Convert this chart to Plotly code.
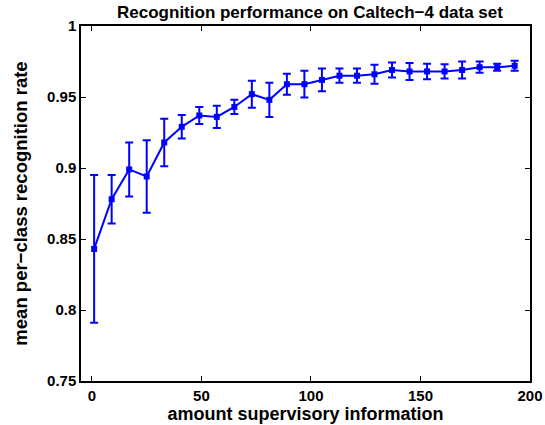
import plotly.graph_objects as go

supervision = [1, 9, 17, 25, 33, 41, 49, 57, 65, 73, 81, 89, 97, 105, 113, 121, 129,
               137, 145, 153, 161, 169, 177, 185, 193]
recognition_rate = [0.843, 0.878, 0.899, 0.894, 0.918, 0.929, 0.937, 0.936, 0.943, 0.952,
                    0.948, 0.959, 0.959, 0.962, 0.965, 0.965, 0.966, 0.969, 0.968, 0.968,
                    0.968, 0.969, 0.971, 0.971, 0.972]
std_error = [0.052, 0.017, 0.019, 0.0255, 0.0167, 0.0083, 0.006, 0.0078, 0.005, 0.0095,
             0.012, 0.0074, 0.0094, 0.008, 0.005, 0.005, 0.0067, 0.0053, 0.006, 0.0055,
             0.005, 0.006, 0.004, 0.0025, 0.0036]
x_ticks = [0, 50, 100, 150, 200]
x_tick_labels = ["0", "50", "100", "150", "200"]
y_ticks = [0.75, 0.8, 0.85, 0.9, 0.95, 1.0]
y_tick_labels = ["0.75", "0.8", "0.85", "0.9", "0.95", "1"]

blue = "#0000ff"
font_family = "Liberation Sans, Arial, Helvetica, sans-serif"

fig = go.Figure()
fig.add_trace(go.Scatter(
    x=supervision, y=recognition_rate,
    mode="lines+markers",
    line=dict(color=blue, width=2),
    marker=dict(symbol="square", size=6, color=blue),
    error_y=dict(type="data", array=std_error, visible=True, color=blue, thickness=2, width=4),
    showlegend=False,
))

axis_common = dict(
    showline=True, linecolor="black", linewidth=1.5, mirror="ticks",
    ticks="inside", ticklen=5, tickwidth=1, tickcolor="black", showgrid=False, zeroline=False,
    automargin=False,
    tickfont=dict(family=font_family, size=15, color="black"),
)

fig.update_layout(
    width=545, height=425,
    margin=dict(l=81, r=15, t=26, b=44, autoexpand=False),
    paper_bgcolor="white", plot_bgcolor="white",
    title=dict(text="<b>Recognition performance on Caltech−4 data set</b>",
               x=(310 - 81) / 449, xanchor="center", xref="paper", y=1 - 12 / 425,
               yanchor="middle",
               font=dict(family=font_family, size=17, color="black")),
    xaxis=dict(range=[-5, 200], tickvals=x_ticks,
               ticktext=["<b>%s</b>" % t for t in x_tick_labels],
               title=dict(text="<b>amount supervisory information</b>", standoff=3,
                          font=dict(family=font_family, size=18, color="black")),
               **axis_common),
    yaxis=dict(range=[0.75, 1.0], tickvals=y_ticks,
               ticktext=["<b>%s</b>" % t for t in y_tick_labels],
               title=dict(text="<b>mean per−class recognition rate</b>", standoff=15,
                          font=dict(family=font_family, size=18.5, color="black")),
               **axis_common),
)

fig.write_html("out.html", config={"displayModeBar": False},
               post_script="document.body.style.margin='0';document.body.style.overflow='hidden';")
